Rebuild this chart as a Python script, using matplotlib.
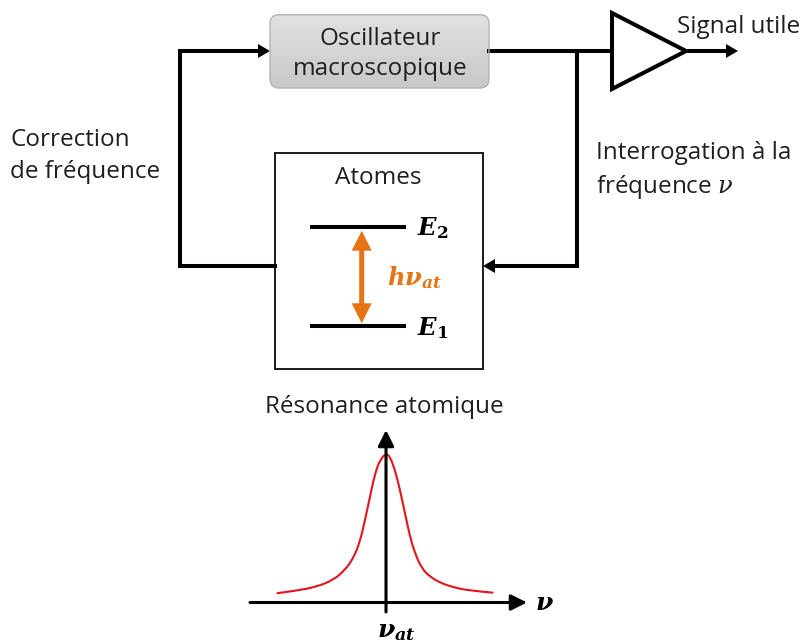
import numpy as np
import matplotlib
matplotlib.use("Agg")
import matplotlib.pyplot as plt
from matplotlib.patches import FancyBboxPatch, Rectangle, Polygon, PathPatch
from matplotlib.path import Path

plt.rcParams['font.family'] = ['Open Sans', 'DejaVu Sans']
plt.rcParams['mathtext.fontset'] = 'dejavuserif'

# Résonance atomique : désaccord (u.a.) et signal (u.a.)
detuning = [-109.3, -89.3, -69.3, -52.7, -41, -32.7, -26, -21, -16, -11, -6, 0,
            4, 9, 14, 19, 24, 29, 35.7, 44, 54, 67.3, 84, 107.3]
signal = [9.2, 11.8, 15.8, 22.5, 32.5, 44.2, 60.8, 82.5, 105.8, 129, 142.5, 149.2,
          145.8, 132.5, 112.5, 89.2, 65.8, 49.2, 34.2, 25.8, 19.8, 15.2, 11.8, 9.8]

# Textes du schéma
osc_label = ["Oscillateur", "macroscopique"]
correction_label = ["Correction", "de fréquence"]
interro_label = ["Interrogation à la", "fréquence $\\nu$"]

TXT = '#1f1f1f'
ORANGE = '#e67414'
LW = 2.9
FS = 17.5

fig = plt.figure(figsize=(8.03, 6.42), dpi=100)
ax = fig.add_axes([0, 0, 1, 1])
ax.set_xlim(0, 803)
ax.set_ylim(642, 0)
ax.axis('off')


def head(x, y, dx, dy, hw=14, hl=12, color='k'):
    # tête de flèche seule (pointe en x+dx, y+dy)
    ax.arrow(x, y, dx, dy, width=0.01, head_width=hw, head_length=hl,
             length_includes_head=True, color=color, lw=0)


# Oscillateur (boîte grise en dégradé)
box = FancyBboxPatch((270, 14.7), 219, 73.3, boxstyle='round,pad=0,rounding_size=9',
                     facecolor='none', edgecolor='#b3b3b3', lw=1.0, zorder=3)
ax.add_patch(box)
grad = np.linspace(0, 1, 100).reshape(-1, 1)
im = ax.imshow(grad, cmap=matplotlib.colors.LinearSegmentedColormap.from_list('g', ['#e2e2e2', '#c8c8c8']),
               extent=[270, 489, 88, 14.7], aspect='auto', zorder=2)
im.set_clip_path(box)
ax.set_xlim(0, 803)
ax.set_ylim(642, 0)
ax.text(380, 44.7, osc_label[0], ha='center', va='baseline', fontsize=FS, color=TXT, zorder=4)
ax.text(380, 74.7, osc_label[1], ha='center', va='baseline', fontsize=FS, color=TXT, zorder=4)

# boucle de correction
ax.plot([275, 180, 180, 259], [266, 266, 51, 51], color='k', lw=LW, solid_capstyle='projecting',
        solid_joinstyle='miter')
head(258, 51, 12, 0)

# sortie de l'oscillateur -> amplificateur
ax.plot([489, 612], [51, 51], color='k', lw=LW)
ax.add_patch(Polygon([(612, 13), (612, 89), (686, 51)], closed=True, facecolor='white',
                     edgecolor='k', lw=LW, joinstyle='miter'))
ax.plot([686, 727], [51, 51], color='k', lw=LW)
head(726, 51, 12, 0)
ax.text(676.7, 33.3, "Signal utile", ha='left', va='baseline', fontsize=FS, color=TXT)

# branche d'interrogation
ax.plot([577, 577, 494], [51, 266, 266], color='k', lw=LW, solid_capstyle='projecting',
        solid_joinstyle='miter')
head(495, 266, -12, 0)

# boîte des atomes
ax.add_patch(Rectangle((275, 152.7), 208, 216.6, facecolor='white', edgecolor='#1a1a1a', lw=1.4))
ax.text(378, 184, "Atomes", ha='center', va='baseline', fontsize=FS, color=TXT)
ax.plot([312, 404], [226.7, 226.7], color='k', lw=LW)
ax.plot([312, 404], [325.7, 325.7], color='k', lw=LW)
ax.text(417, 235, r'$\mathbfit{E}_{\mathbf{2}}$', ha='left', va='baseline', fontsize=17.5, color='k')
ax.text(417, 335, r'$\mathbfit{E}_{\mathbf{1}}$', ha='left', va='baseline', fontsize=17.5, color='k')

# transition h nu_at
mid = 277
ax.arrow(361.7, mid, 0, 230.7 - mid, width=5, head_width=20, head_length=20,
         length_includes_head=True, color=ORANGE, lw=0)
ax.arrow(361.7, mid, 0, 323.3 - mid, width=5, head_width=20, head_length=20,
         length_includes_head=True, color=ORANGE, lw=0)
ax.text(387, 285, r'$\mathbfit{h\nu}_{\mathbfit{at}}$', ha='left', va='baseline', fontsize=17.5,
        color=ORANGE)

# textes latéraux
ax.text(10.5, 146, correction_label[0], ha='left', va='baseline', fontsize=FS, color=TXT)
ax.text(10.5, 178.3, correction_label[1], ha='left', va='baseline', fontsize=FS, color=TXT)
ax.text(596, 159.3, interro_label[0], ha='left', va='baseline', fontsize=FS, color=TXT)
ax.text(596, 193, interro_label[1], ha='left', va='baseline', fontsize=FS, color=TXT)

ax.text(384, 413.3, "Résonance atomique", ha='center', va='baseline', fontsize=FS, color=TXT)

# courbe de résonance (lissée : points lus = points de contrôle)
ax2 = fig.add_axes([250 / 803, (642 - 612) / 642, 277 / 803, 182 / 642])
ax2.set_xlim(-136, 141)
ax2.set_ylim(-9.5, 172.5)
ax2.axis('off')
pts = np.column_stack([detuning, signal])
verts = [pts[0]]
codes = [Path.MOVETO]
for i in range(1, len(pts) - 1):
    end = pts[-1] if i == len(pts) - 2 else (pts[i] + pts[i + 1]) / 2
    verts += [pts[i], end]
    codes += [Path.CURVE3, Path.CURVE3]
ax2.add_patch(PathPatch(Path(verts, codes), facecolor='none', edgecolor='#e3141c', lw=1.5))
ax2.annotate('', xy=(141, 0), xytext=(-136, 0),
             arrowprops=dict(arrowstyle='-|>,head_length=0.6,head_width=0.3', lw=2.2, color='k',
                             mutation_scale=16, shrinkA=0, shrinkB=0))
ax2.annotate('', xy=(0, 172.5), xytext=(0, -9.5),
             arrowprops=dict(arrowstyle='-|>,head_length=0.6,head_width=0.3', lw=2.2, color='k',
                             mutation_scale=16, shrinkA=0, shrinkB=0))
ax.text(535, 610, r'$\mathbfit{\nu}$', ha='left', va='baseline', fontsize=18, color='k')
ax.text(377, 637, r'$\mathbfit{\nu}_{\mathbfit{at}}$', ha='left', va='baseline', fontsize=18, color='k')

fig.savefig('out.png', dpi=100)
